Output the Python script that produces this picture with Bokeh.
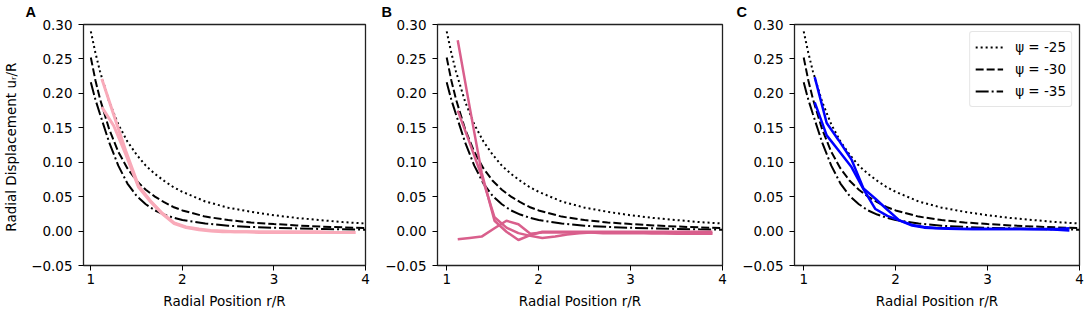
from bokeh.plotting import figure
from bokeh.layouts import row
from bokeh.models import Range1d, FixedTicker, Title, Legend, LegendItem
from bokeh.embed import file_html
from bokeh.resources import INLINE

# ---- data ----
r_theory = [1.0, 1.05, 1.1, 1.2, 1.3, 1.4, 1.5, 1.6, 1.7, 1.8, 1.9, 2.0, 2.25, 2.5, 2.75, 3.0, 3.25, 3.5, 3.75, 4.0]
psi25 = [0.290, 0.259, 0.232, 0.188, 0.155, 0.130, 0.111, 0.095, 0.083, 0.073, 0.064, 0.057, 0.043, 0.034, 0.028, 0.023, 0.019, 0.016, 0.013, 0.011]
psi30 = [0.252, 0.219, 0.192, 0.148, 0.115, 0.091, 0.073, 0.060, 0.050, 0.042, 0.035, 0.030, 0.021, 0.016, 0.0125, 0.0102, 0.0082, 0.0066, 0.0054, 0.0044]
psi35 = [0.216, 0.191, 0.170, 0.129, 0.095, 0.069, 0.051, 0.039, 0.030, 0.024, 0.0195, 0.016, 0.011, 0.0078, 0.006, 0.0048, 0.0039, 0.0031, 0.0025, 0.002]
theory_labels = ["ψ = -25", "ψ = -30", "ψ = -35"]

r_data = [1.12, 1.25, 1.38, 1.52, 1.65, 1.78, 1.91, 2.04, 2.18, 2.31, 2.44, 2.57, 2.70, 2.84, 2.97, 3.10, 3.23, 3.36, 3.50, 3.63, 3.76, 3.89]
a1 = [0.221, 0.169, 0.117, 0.066, 0.044, 0.026, 0.012, 0.006, 0.003, 0.001, 0.000, -0.001, -0.001, -0.001, -0.001, -0.001, -0.001, -0.001, -0.001, -0.002, -0.002, -0.002]
a2 = [0.180, 0.153, 0.112, 0.064, 0.043, 0.025, 0.011, 0.005, 0.002, 0.000, -0.001, -0.001, -0.001, -0.002, -0.002, -0.002, -0.002, -0.002, -0.002, -0.002, -0.002, -0.002]
b1 = [0.277, 0.180, 0.085, 0.015, -0.001, -0.013, -0.006, -0.001, -0.001, -0.001, -0.001, -0.001, -0.001, -0.001, -0.001, -0.001, -0.001, -0.001, -0.001, -0.001, -0.001, -0.001]
b2 = [0.175, 0.128, 0.080, 0.020, 0.005, -0.003, -0.007, -0.010, -0.008, -0.005, -0.003, -0.002, -0.002, -0.002, -0.002, -0.002, -0.003, -0.003, -0.003, -0.003, -0.003, -0.003]
b3 = [-0.012, -0.010, -0.008, 0.004, 0.015, 0.010, -0.004, -0.002, -0.002, -0.002, -0.002, -0.002, -0.003, -0.003, -0.003, -0.003, -0.003, -0.003, -0.004, -0.004, -0.004, -0.004]
c1 = [0.2235, 0.157, 0.132, 0.104, 0.062, 0.047, 0.031, 0.0155, 0.009, 0.006, 0.0045, 0.004, 0.0035, 0.003, 0.003, 0.003, 0.003, 0.003, 0.0025, 0.0025, 0.002, 0.001]
c2 = [0.187, 0.139, 0.117, 0.093, 0.061, 0.032, 0.022, 0.0155, 0.008, 0.005, 0.004, 0.0035, 0.003, 0.003, 0.003, 0.003, 0.003, 0.003, 0.003, 0.003, 0.003, 0.004]

x_ticks = [1, 2, 3, 4]
x_tick_labels = ["1", "2", "3", "4"]
y_ticks = [-0.05, 0.0, 0.05, 0.10, 0.15, 0.20, 0.25, 0.30]
y_tick_labels = ["\u22120.05", "0.00", "0.05", "0.10", "0.15", "0.20", "0.25", "0.30"]

panel_letters = ["A", "B", "C"]
x_label = "Radial Position r/R"
y_label = "Radial Displacement  u\u1d63/R"

FONT = "DejaVu Sans"
FS = "13.5px"


def make_fig(x0, bl, br, fw, letter, letter_dx, ylabel=None):
    p = figure(frame_width=fw, frame_height=241,
               min_border_left=bl, min_border_right=br,
               min_border_top=24, min_border_bottom=47,
               x_range=Range1d(x0, 4.0), y_range=Range1d(-0.05, 0.30),
               output_backend="svg", toolbar_location=None)
    p.grid.visible = False
    p.outline_line_color = "#222222"
    p.outline_line_width = 1.3
    p.background_fill_color = "white"
    p.border_fill_color = "white"
    p.xaxis.ticker = FixedTicker(ticks=x_ticks)
    p.xaxis.major_label_overrides = dict(zip(x_ticks, x_tick_labels))
    p.yaxis.ticker = FixedTicker(ticks=y_ticks)
    p.yaxis.major_label_overrides = dict(zip(y_ticks, y_tick_labels))
    for ax in (p.xaxis[0], p.yaxis[0]):
        ax.axis_line_color = None
        ax.major_tick_line_color = "black"
        ax.major_tick_line_width = 1
        ax.major_tick_out = 5
        ax.major_tick_in = 0
        ax.minor_tick_line_color = None
        ax.major_label_text_font = FONT
        ax.major_label_text_font_size = FS
        ax.major_label_text_color = "black"
        ax.axis_label_text_font = FONT
        ax.axis_label_text_font_size = FS
        ax.axis_label_text_font_style = "normal"
        ax.axis_label_text_color = "black"
    p.xaxis.major_label_standoff = 3
    p.yaxis.major_label_standoff = 6
    p.xaxis.axis_label = x_label
    p.xaxis.axis_label_standoff = 6
    if ylabel:
        p.yaxis.axis_label = ylabel
        p.yaxis.axis_label_standoff = 9
    t = Title(text=letter, align="left", offset=letter_dx, standoff=6,
              vertical_align="top",
              text_font="Liberation Sans", text_font_size="14.5px",
              text_font_style="bold", text_color="black")
    p.add_layout(t, "above")
    return p


def add_theory(p):
    r1 = p.line(r_theory, psi25, line_color="black", line_width=2, line_dash="2 3")
    r2 = p.line(r_theory, psi30, line_color="black", line_width=2, line_dash="8 3")
    r3 = p.line(r_theory, psi35, line_color="black", line_width=2, line_dash="13 3 2 3")
    return [r1, r2, r3]


pA = make_fig(0.92, 80, 6, 282, panel_letters[0], -58, y_label)
add_theory(pA)
pA.line(r_data, a1, line_color="#f9aab9", line_width=3)
pA.line(r_data, a2, line_color="#f9aab9", line_width=3)

pB = make_fig(0.90, 66, 6, 285, panel_letters[1], -56)
add_theory(pB)
for s in (b1, b2, b3):
    pB.line(r_data, s, line_color="#d95f8c", line_width=2.5)

pC = make_fig(0.90, 66, 8, 285, panel_letters[2], -58)
rs = add_theory(pC)
for s in (c1, c2):
    pC.line(r_data, s, line_color="#0000ff", line_width=2.5)

legend = Legend(items=[LegendItem(label=l, renderers=[r]) for l, r in zip(theory_labels, rs)],
                location="top_right")
legend.label_text_font = FONT
legend.label_text_font_size = FS
legend.label_text_color = "black"
legend.glyph_width = 28
legend.glyph_height = 20
legend.label_height = 20
legend.label_standoff = 12
legend.spacing = 2
legend.padding = 5
legend.margin = 7
legend.border_line_color = "#cccccc"
legend.border_line_width = 1
legend.background_fill_alpha = 0.85
if "border_radius" in Legend.properties():
    legend.border_radius = 3
pC.add_layout(legend)

layout = row(pA, pB, pC)
open("out.html", "w").write(file_html(layout, INLINE))
